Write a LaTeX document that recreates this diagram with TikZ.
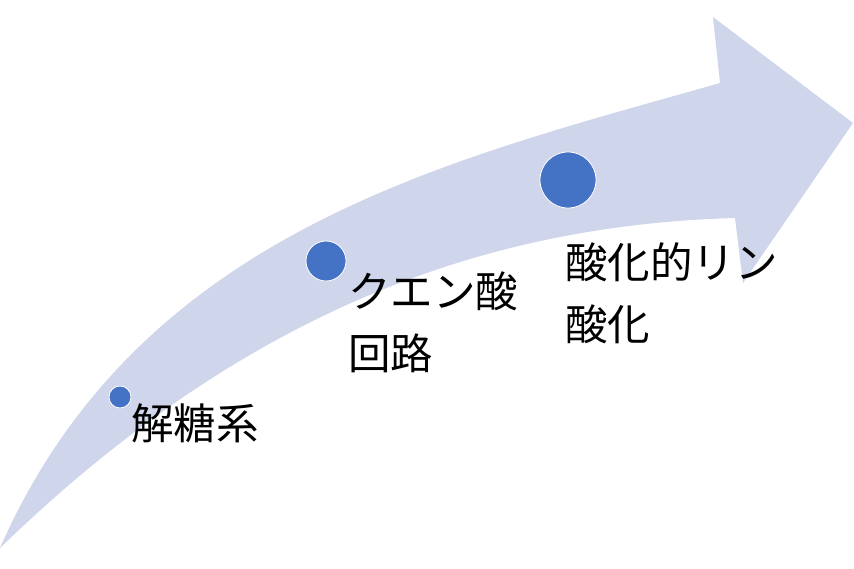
\documentclass[tikz,border=0pt]{standalone}
\usepackage{fontspec}
\newfontfamily\cjk{Noto Sans CJK JP}
\definecolor{bandblue}{RGB}{207,213,234}
\definecolor{dotblue}{RGB}{68,114,196}

\begin{document}
\begin{tikzpicture}[x=1pt, y=-1pt,
        dot/.style={circle, fill=dotblue, draw=white, line width=0.8pt, inner sep=0pt},
        label/.style={anchor=north west, inner sep=0pt, align=left, font=\cjk\fontsize{42.5}{62}\selectfont}]
        \useasboundingbox (0, 0) rectangle (854, 568);

        \fill[bandblue] (0, 548) .. controls (140, 230) and (450, 160) .. (720, 83)
            -- (713, 17) -- (853, 123) -- (743, 283) -- (735, 218)
            .. controls (480, 225) and (240, 315) .. (0, 548) -- cycle;

        \node[dot, minimum size=22pt] (glyco) at (120, 397) {};
        \node[dot, minimum size=40pt] (tca) at (326, 261) {};
        \node[dot, minimum size=56pt] (oxphos) at (568, 180) {};

        \node[label] (glycotext) at (131, 404) {解糖系};
        \node[label] (tcatext) at (348, 272) {クエン酸\\回路};
        \node[label] (oxphostext) at (565, 242) {酸化的リン\\酸化};
    \end{tikzpicture}
\end{document}
